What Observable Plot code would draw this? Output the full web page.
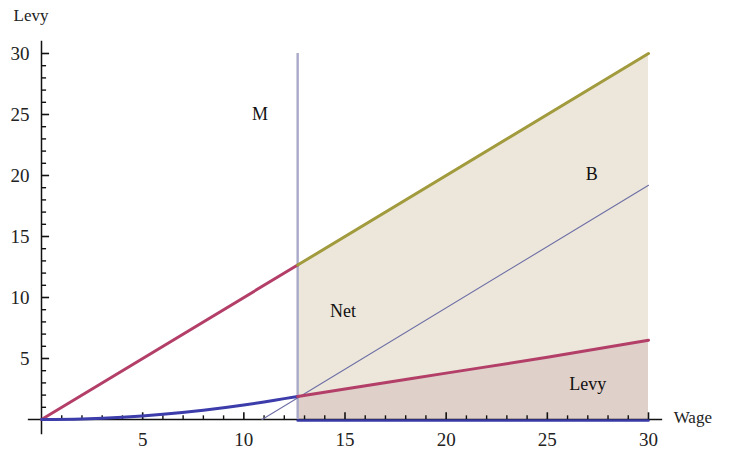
<!DOCTYPE html>
<html>
<head>
<meta charset="utf-8">
<script src="https://cdn.jsdelivr.net/npm/d3@7"></script>
<script src="https://cdn.jsdelivr.net/npm/@observablehq/plot@0.6"></script>
<style>
  html, body { margin: 0; padding: 0; background: #fff; }
  #chart svg { display: block; }
</style>
</head>
<body>
<div id="chart"></div>
<script>
// ---- data ----
const minWage = 12.66;
const grossX = [0, 12.66];            // gross pay line below minimum (y = wage)
const grossY = [0, 12.66];
const grossHighX = [12.66, 30];       // gross pay line above minimum
const grossHighY = [12.66, 30];
const levyLowX = [0, 2, 4, 6, 8, 10, 11, 12, 12.66];
const levyLowY = [0, 0.05, 0.19, 0.43, 0.76, 1.19, 1.44, 1.71, 1.88];
const levyHighX = [12.66, 15, 20, 25, 30];
const levyHighY = [1.88, 2.5, 3.8, 5.1, 6.5];
const bX = [10.9, 30];
const bY = [0, 19.2];
const zeroX = [12.66, 30];
const zeroY = [0, 0];
const majorTicks = [5, 10, 15, 20, 25, 30];
const minorTicks = d3.range(1, 31).filter(d => d % 5 !== 0);
const labels = [
  {x: 10.8, y: 25, text: "M"},
  {x: 14.9, y: 8.9, text: "Net"},
  {x: 27.2, y: 20.1, text: "B"},
  {x: 27.0, y: 2.9, text: "Levy"}
];

const pts = (xs, ys) => xs.map((x, i) => ({x, y: ys[i]}));
const font = "Liberation Serif, DejaVu Serif, serif";

const chart = Plot.plot({
  width: 730,
  height: 452,
  marginLeft: 41,
  marginRight: 82,
  marginTop: 53,
  marginBottom: 33,
  x: {domain: [0, 30], axis: null},
  y: {domain: [0, 30], axis: null},
  style: {fontFamily: font, background: "#fff", overflow: "visible"},
  marks: [
    // shaded regions
    Plot.areaY(pts(grossHighX, grossHighY), {x: "x", y1: 0, y2: "y", fill: "#ece7da"}),
    Plot.areaY(pts(levyHighX, levyHighY), {x: "x", y1: 0, y2: "y", fill: "#dfd0ca"}),
    // axes
    Plot.ruleY([0], {x1: -0.65, x2: 30.7, stroke: "#111", strokeWidth: 1.5}),
    Plot.ruleX([0], {y1: -1.25, y2: 31, stroke: "#111", strokeWidth: 1.5}),
    Plot.ruleX(majorTicks, {y1: 0, y2: 0.55, stroke: "#111", strokeWidth: 1.6}),
    Plot.ruleX(minorTicks, {y1: 0, y2: 0.3, stroke: "#111", strokeWidth: 1.4}),
    Plot.ruleY(majorTicks, {x1: 0, x2: 0.4, stroke: "#111", strokeWidth: 1.6}),
    Plot.ruleY(minorTicks, {x1: 0, x2: 0.25, stroke: "#111", strokeWidth: 1.4}),
    Plot.text(majorTicks, {x: d => d, y: 0, dy: 20, text: d => String(d), fontSize: 19, fill: "#222"}),
    Plot.text(majorTicks, {x: 0, y: d => d, dx: -12, text: d => String(d), textAnchor: "end", fontSize: 19, fill: "#222"}),
    Plot.text(["Wage"], {x: 30.7, y: 0, dx: 11, dy: -2, text: d => d, textAnchor: "start", fontSize: 17, fill: "#222"}),
    Plot.text(["Levy"], {x: 0, y: 30, dx: -28, dy: -38, text: d => d, textAnchor: "start", fontSize: 17, fill: "#222"}),
    // minimum wage line
    Plot.ruleX([minWage], {y1: 0, y2: 30, stroke: "#a9a9c9", strokeWidth: 2.4}),
    // B line
    Plot.line(pts(bX, bY), {x: "x", y: "y", stroke: "#6e6ea6", strokeWidth: 1.1}),
    // zero levy along axis beyond minimum
    Plot.line(pts(zeroX, zeroY), {x: "x", y: "y", stroke: "#3a3aa6", strokeWidth: 2.5, dy: 1}),
    // gross pay lines
    Plot.line(pts(grossX, grossY), {x: "x", y: "y", stroke: "#b33f68", strokeWidth: 3}),
    Plot.line(pts(grossHighX, grossHighY), {x: "x", y: "y", stroke: "#a19b3d", strokeWidth: 3}),
    // levy curves
    Plot.line(pts(levyLowX, levyLowY), {x: "x", y: "y", stroke: "#3c3caa", strokeWidth: 3, curve: "monotone-x"}),
    Plot.line(pts(levyHighX, levyHighY), {x: "x", y: "y", stroke: "#b33f68", strokeWidth: 3, curve: "monotone-x"}),
    // labels
    Plot.text(labels, {x: "x", y: "y", text: "text", fontSize: 18, fill: "#111"})
  ]
});
document.getElementById("chart").append(chart);
</script>
</body>
</html>
